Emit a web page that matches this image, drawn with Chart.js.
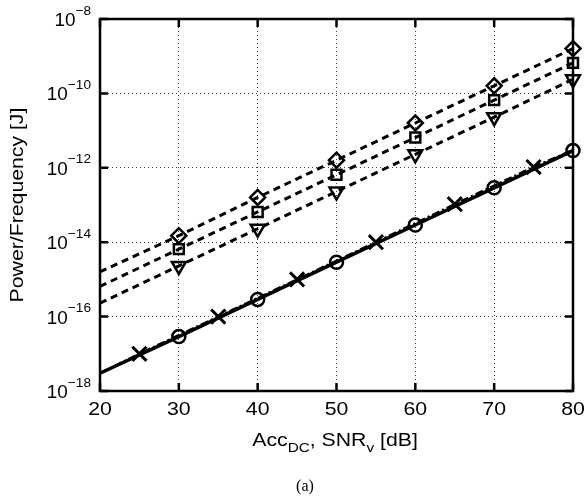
<!DOCTYPE html>
<html lang="en">
<head>
    <meta charset="UTF-8">
    <title>Power/Frequency vs Acc</title>
    <style>
        html, body { margin: 0; padding: 0; background: #fff; }
        #wrap { width: 585px; height: 499px; }
    </style>
</head>
<body>
    <div id="wrap"><canvas id="chart" width="585" height="499"></canvas></div>

    <script src="https://cdn.jsdelivr.net/npm/chart.js"></script>
    <script>
        // Data
        const xTicks = [20, 30, 40, 50, 60, 70, 80];
        const yTicks = [1e-18, 1e-16, 1e-14, 1e-12, 1e-10, 1e-8];
        const yExp = ['18', '16', '14', '12', '10', '8'];

        const xDashed = [20, 30, 40, 50, 60, 70, 80];
        const diamondVals = [1.6e-15, 1.5e-14, 1.6e-13, 1.6e-12, 1.6e-11, 1.6e-10, 1.6e-9];
        const squareVals = [6.5e-16, 6.5e-15, 6.5e-14, 6.5e-13, 6.5e-12, 6.6e-11, 6.6e-10];
        const triangleVals = [2.3e-16, 2.3e-15, 2.3e-14, 2.3e-13, 2.3e-12, 2.3e-11, 2.4e-10];

        const xCircle = [20, 30, 40, 50, 60, 70, 80];
        const circleVals = [3.0e-18, 2.9e-17, 2.9e-16, 2.9e-15, 2.9e-14, 2.9e-13, 2.9e-12];

        const xCross = [20, 25, 35, 45, 55, 65, 75, 80];
        const crossVals = [3.0e-18, 1.0e-17, 1.0e-16, 1.0e-15, 1.0e-14, 1.05e-13, 1.05e-12, 3.0e-12];

        const FONT = '"Liberation Sans", Arial, sans-serif';

        function pts(xs, ys) {
            return xs.map((x, i) => ({ x: x, y: ys[i] }));
        }
        // no marker at the line's start (x = 20) or its end for the cross line
        function radii(xs, r, skip) {
            return xs.map(x => skip.includes(x) ? 0 : r);
        }

        function dashedSet(vals, style, r, rot) {
            return {
                data: pts(xDashed, vals),
                borderColor: '#000',
                borderWidth: 3,
                borderDash: [7, 5],
                pointStyle: style,
                rotation: rot || 0,
                pointRadius: radii(xDashed, r, [20]),
                pointBorderWidth: 2.5,
                pointBorderColor: '#000',
                pointBackgroundColor: 'rgba(0,0,0,0)',
                clip: false
            };
        }

        // text runs with sub/superscripts, stretched a bit along the baseline
        function drawRuns(ctx, runs, x, y, align, sx) {
            sx = sx || 1;
            let total = 0;
            runs.forEach(r => { ctx.font = r.size + 'px ' + FONT; total += ctx.measureText(r.t).width; });
            let cx = align === 'right' ? -total : (align === 'center' ? -total / 2 : 0);
            ctx.save();
            ctx.translate(x, y);
            ctx.scale(sx, 1);
            ctx.textAlign = 'left';
            runs.forEach(r => {
                ctx.font = r.size + 'px ' + FONT;
                ctx.fillText(r.t, cx, r.dy || 0);
                cx += ctx.measureText(r.t).width;
            });
            ctx.restore();
        }

        const framePlugin = {
            id: 'frame',
            beforeDatasetsDraw(chart) {
                const ctx = chart.ctx;
                const a = chart.chartArea;
                const xs = chart.scales.x, ys = chart.scales.y;
                ctx.save();
                ctx.strokeStyle = '#000';
                ctx.lineWidth = 2.5;
                ctx.strokeRect(a.left, a.top, a.right - a.left, a.bottom - a.top);
                const len = 8;
                ctx.beginPath();
                xTicks.forEach(v => {
                    const px = xs.getPixelForValue(v);
                    ctx.moveTo(px, a.bottom); ctx.lineTo(px, a.bottom - len);
                    ctx.moveTo(px, a.top); ctx.lineTo(px, a.top + len);
                });
                yTicks.forEach(v => {
                    const py = ys.getPixelForValue(v);
                    ctx.moveTo(a.left, py); ctx.lineTo(a.left + len, py);
                    ctx.moveTo(a.right, py); ctx.lineTo(a.right - len, py);
                });
                ctx.stroke();
                ctx.restore();
            },
            afterDraw(chart) {
                const ctx = chart.ctx;
                const a = chart.chartArea;
                const xs = chart.scales.x, ys = chart.scales.y;
                ctx.save();
                ctx.fillStyle = '#000';
                ctx.textBaseline = 'middle';

                // x tick labels
                xTicks.forEach(v => {
                    drawRuns(ctx, [{ t: String(v), size: 19 }], xs.getPixelForValue(v), 410, 'center', 1.12);
                });

                // y tick labels 10^-n
                yTicks.forEach((v, i) => {
                    const py = ys.getPixelForValue(v);
                    drawRuns(ctx, [
                        { t: '10', size: 18, dy: 2 },
                        { t: '\u2212' + yExp[i], size: 13, dy: -8 }
                    ], 91, py, 'right', 1.05);
                });

                // x axis title
                drawRuns(ctx, [
                    { t: 'Acc', size: 18 },
                    { t: 'DC', size: 13, dy: 7 },
                    { t: ', SNR', size: 18 },
                    { t: 'v', size: 13, dy: 7 },
                    { t: ' [dB]', size: 18 }
                ], 335, 441, 'center', 1.18);

                // (a)
                ctx.textAlign = 'center';
                ctx.font = '16px "Liberation Serif", "Times New Roman", serif';
                ctx.fillText('(a)', 305, 487);

                // y axis title
                ctx.translate(18, (a.top + a.bottom) / 2);
                ctx.rotate(-Math.PI / 2);
                drawRuns(ctx, [{ t: 'Power/Frequency [J]', size: 18 }], 0, 0, 'center', 1.18);
                ctx.restore();
            }
        };

        new Chart(document.getElementById('chart'), {
            type: 'line',
            data: {
                datasets: [
                    dashedSet(diamondVals, 'rectRot', 7.5),
                    dashedSet(squareVals, 'rect', 7),
                    dashedSet(triangleVals, 'triangle', 8, 180),
                    {
                        data: pts(xCross, crossVals),
                        borderColor: '#000',
                        borderWidth: 2.5,
                        borderDash: [8, 3, 2, 3],
                        pointStyle: 'crossRot',
                        pointRadius: radii(xCross, 10, [20, 80]),
                        pointBorderWidth: 3,
                        pointBorderColor: '#000',
                        pointBackgroundColor: 'rgba(0,0,0,0)',
                        clip: false
                    },
                    {
                        data: pts(xCircle, circleVals),
                        borderColor: '#000',
                        borderWidth: 3.5,
                        pointStyle: 'circle',
                        pointRadius: radii(xCircle, 6.5, [20]),
                        pointBorderWidth: 2.5,
                        pointBorderColor: '#000',
                        pointBackgroundColor: 'rgba(0,0,0,0)',
                        clip: false
                    }
                ]
            },
            options: {
                responsive: false,
                animation: false,
                events: [],
                layout: { padding: { top: 19, right: 12, left: 0, bottom: 0 } },
                plugins: { legend: { display: false }, tooltip: { enabled: false } },
                scales: {
                    x: {
                        type: 'linear',
                        min: 20,
                        max: 80,
                        ticks: { display: false, stepSize: 10 },
                        grid: { color: '#444', lineWidth: 1, drawTicks: false },
                        border: { display: false, dash: [1, 3] },
                        afterFit(s) { s.height = 108; }
                    },
                    y: {
                        type: 'logarithmic',
                        min: 1e-18,
                        max: 1e-8,
                        ticks: { display: false },
                        grid: { color: '#444', lineWidth: 1, drawTicks: false },
                        border: { display: false, dash: [1, 3] },
                        afterBuildTicks(s) { s.ticks = yTicks.map(v => ({ value: v })); },
                        afterFit(s) { s.width = 100; }
                    }
                }
            },
            plugins: [framePlugin]
        });
    </script>
</body>
</html>
